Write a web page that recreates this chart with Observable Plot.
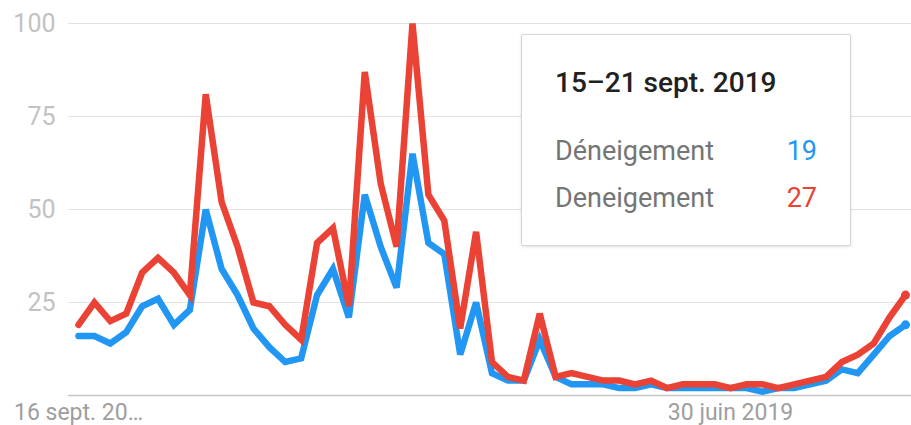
<!DOCTYPE html>
<html>
<head>
<meta charset="utf-8">
<script src="https://cdn.jsdelivr.net/npm/d3@7"></script>
<script src="https://cdn.jsdelivr.net/npm/@observablehq/plot@0.6"></script>
<style>
  html, body { margin: 0; padding: 0; background: #fff; }
  #wrap { position: relative; width: 911px; height: 425px; overflow: hidden; font-family: Roboto, "Noto Sans", sans-serif; }
  #tip { position: absolute; left: 521px; top: 34px; width: 328px; height: 210px; background: #fff;
         border: 1px solid #d6d6d6; border-radius: 2px; box-shadow: 0 1px 3px rgba(0,0,0,0.12); box-sizing: content-box; }
  #tip .title { position: absolute; left: 33px; top: 32px; line-height: 32px; font-size: 28px; font-weight: 500; color: #212121; white-space: nowrap; }
  #tip .row { position: absolute; left: 33px; right: 33px; line-height: 32px; font-size: 27px; color: #757575; white-space: nowrap; }
  #tip .row span.v { position: absolute; right: 0; }
</style>
</head>
<body>
<div id="wrap"><div id="chart"></div>
  <div id="tip">
    <div class="title" id="tipTitle"></div>
    <div class="row" id="row0" style="top:100px"></div>
    <div class="row" id="row1" style="top:147px"></div>
  </div>
</div>
<script>
const weeks = [
  "2018-09-16","2018-09-23","2018-09-30","2018-10-07","2018-10-14","2018-10-21","2018-10-28",
  "2018-11-04","2018-11-11","2018-11-18","2018-11-25","2018-12-02","2018-12-09","2018-12-16",
  "2018-12-23","2018-12-30","2019-01-06","2019-01-13","2019-01-20","2019-01-27","2019-02-03",
  "2019-02-10","2019-02-17","2019-02-24","2019-03-03","2019-03-10","2019-03-17","2019-03-24",
  "2019-03-31","2019-04-07","2019-04-14","2019-04-21","2019-04-28","2019-05-05","2019-05-12",
  "2019-05-19","2019-05-26","2019-06-02","2019-06-09","2019-06-16","2019-06-23","2019-06-30",
  "2019-07-07","2019-07-14","2019-07-21","2019-07-28","2019-08-04","2019-08-11","2019-08-18",
  "2019-08-25","2019-09-01","2019-09-08","2019-09-15"
];
const seriesNames = ["Déneigement", "Deneigement"];
const seriesColors = ["#2196f3", "#ea4335"];
const deneigementAccent = [16,16,14,17,24,26,19,23,50,34,27,18,13,9,10,27,34,21,54,40,29,65,41,38,11,25,6,4,4,15,5,3,3,3,2,2,3,2,2,2,2,2,2,1,2,2,3,4,7,6,11,16,19];
const deneigementPlain  = [19,25,20,22,33,37,33,27,81,52,40,25,24,19,15,41,45,24,87,57,40,100,54,47,18,44,9,5,4,22,5,6,5,4,4,3,4,2,3,3,3,2,3,3,2,3,4,5,9,11,14,21,27];
const yTicks = [25, 50, 75, 100];
const xTickDates = ["2018-09-16", "2019-06-30"];
const xTickLabels = ["16 sept. 20…", "30 juin 2019"];
const tooltipTitle = "15–21 sept. 2019";

const parse = d3.utcParse("%Y-%m-%d");
const rows = [];
[deneigementAccent, deneigementPlain].forEach((vals, s) => {
  vals.forEach((v, i) => rows.push({date: parse(weeks[i]), value: v, series: seriesNames[s], s}));
});
const last = rows.filter(r => +r.date === +parse(weeks[weeks.length - 1]));
const xTicks = xTickDates.map((d, i) => ({date: parse(d), label: xTickLabels[i]}));

const chart = Plot.plot({
  width: 911,
  height: 425,
  marginLeft: 68,
  marginRight: 0,
  marginTop: 23,
  marginBottom: 30,
  style: {fontFamily: "Roboto, 'Noto Sans', sans-serif", background: "#fff"},
  x: {type: "utc", insetLeft: 10, insetRight: 6, axis: null},
  y: {domain: [0, 100], axis: null},
  marks: [
    Plot.ruleY(yTicks, {stroke: "#e3e3e3", strokeWidth: 1}),
    Plot.ruleY([0], {stroke: "#c6c6c6", strokeWidth: 1.5}),
    Plot.text(yTicks, {y: d => d, frameAnchor: "left", textAnchor: "end", dx: -13, text: d => String(d), fill: "#c2c2c2", fontSize: 25}),
    Plot.line(rows.filter(r => r.s === 0), {x: "date", y: "value", stroke: seriesColors[0], strokeWidth: 6.5, strokeLinejoin: "miter", strokeMiterlimit: 3}),
    Plot.line(rows.filter(r => r.s === 1), {x: "date", y: "value", stroke: seriesColors[1], strokeWidth: 6.5, strokeLinejoin: "miter", strokeMiterlimit: 3}),
    Plot.dot(last, {x: "date", y: "value", r: 4.5, fill: d => seriesColors[d.s]}),
    Plot.text(xTicks, {x: "date", frameAnchor: "bottom", lineAnchor: "bottom", dy: 24, text: "label", fill: "#9e9e9e", fontSize: 23})
  ]
});
document.getElementById("chart").appendChild(chart);

document.getElementById("tipTitle").textContent = tooltipTitle;
const lastVals = [deneigementAccent[deneigementAccent.length - 1], deneigementPlain[deneigementPlain.length - 1]];
[0, 1].forEach(s => {
  const row = document.getElementById("row" + s);
  row.textContent = seriesNames[s];
  const v = document.createElement("span");
  v.className = "v";
  v.style.color = seriesColors[s];
  v.textContent = lastVals[s];
  row.appendChild(v);
});
</script>
</body>
</html>
